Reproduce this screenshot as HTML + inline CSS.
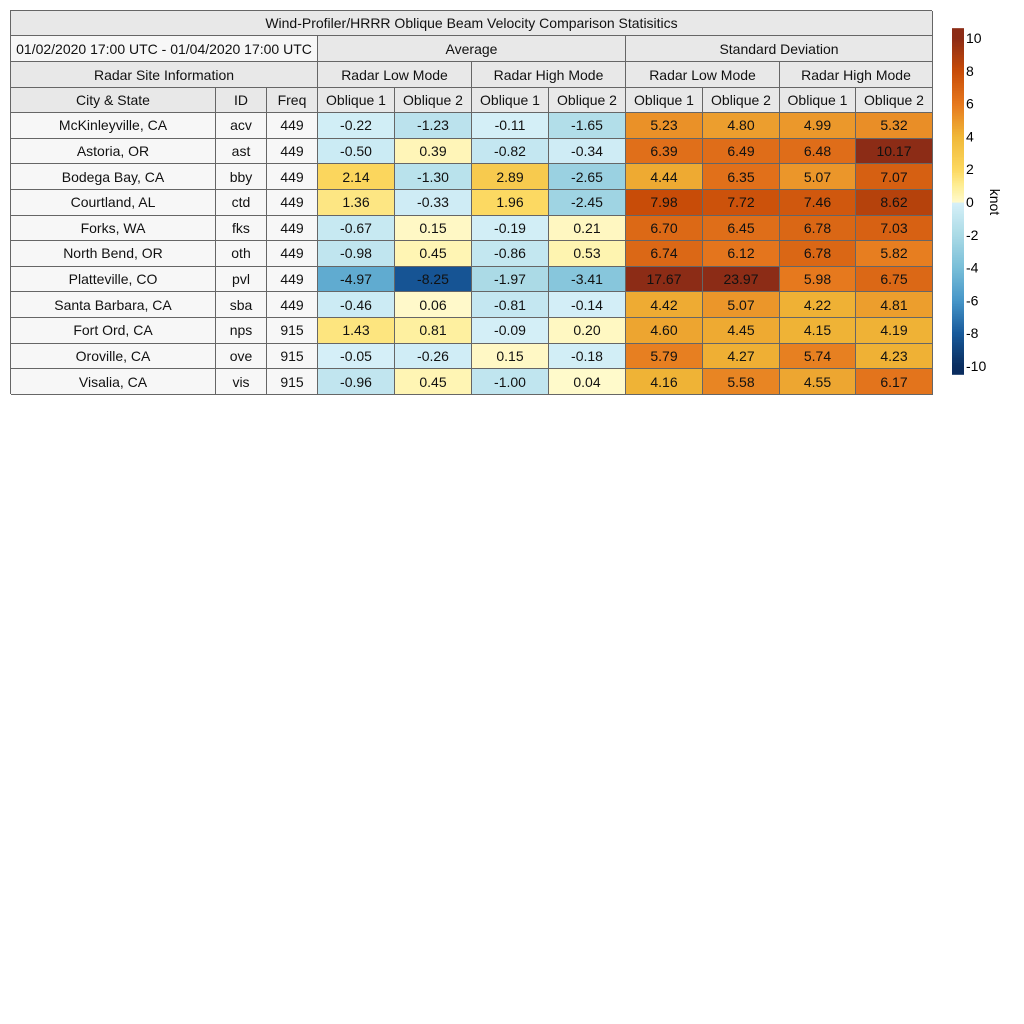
<!DOCTYPE html>
<html><head><meta charset="utf-8"><style>
body{margin:0;width:1024px;height:1024px;background:#fff;font-family:"Liberation Sans",sans-serif;position:relative;overflow:hidden}
.c{position:absolute;box-sizing:border-box;border-right:1px solid #666;border-bottom:1px solid #666;display:flex;align-items:center;justify-content:center;font-size:14px;color:#111;white-space:nowrap}
.h{background:#e8e8e8}
.w{background:#f7f7f7}
.t{position:absolute;font-size:14px;color:#111}
</style></head><body>
<div id="tbl" style="position:absolute;left:10px;top:10px;width:922px;height:384px;border-left:1px solid #666;border-top:1px solid #666;box-sizing:border-box"></div>
<svg id="cb" style="position:absolute;left:0;top:0" width="1024" height="400"></svg>
<script>
const sites=["McKinleyville, CA","Astoria, OR","Bodega Bay, CA","Courtland, AL","Forks, WA","North Bend, OR","Platteville, CO","Santa Barbara, CA","Fort Ord, CA","Oroville, CA","Visalia, CA"];
const ids=["acv","ast","bby","ctd","fks","oth","pvl","sba","nps","ove","vis"];
const freqs=["449","449","449","449","449","449","449","449","915","915","915"];
const avgLow1=[-0.22,-0.50,2.14,1.36,-0.67,-0.98,-4.97,-0.46,1.43,-0.05,-0.96];
const avgLow2=[-1.23,0.39,-1.30,-0.33,0.15,0.45,-8.25,0.06,0.81,-0.26,0.45];
const avgHigh1=[-0.11,-0.82,2.89,1.96,-0.19,-0.86,-1.97,-0.81,-0.09,0.15,-1.00];
const avgHigh2=[-1.65,-0.34,-2.65,-2.45,0.21,0.53,-3.41,-0.14,0.20,-0.18,0.04];
const sdLow1=[5.23,6.39,4.44,7.98,6.70,6.74,17.67,4.42,4.60,5.79,4.16];
const sdLow2=[4.80,6.49,6.35,7.72,6.45,6.12,23.97,5.07,4.45,4.27,5.58];
const sdHigh1=[4.99,6.48,5.07,7.46,6.78,6.78,5.98,4.22,4.15,5.74,4.55];
const sdHigh2=[5.32,10.17,7.07,8.62,7.03,5.82,6.75,4.81,4.19,4.23,6.17];
const cbTicks=[10,8,6,4,2,0,-2,-4,-6,-8,-10];
const posStops=[[0,[255,250,205]],[1,[254,238,150]],[2,[252,216,96]],[4,[240,184,56]],[6,[230,120,30]],[8,[200,76,8]],[10,[140,44,22]]];
const negStops=[[0,[214,240,248]],[-2,[170,218,230]],[-4,[120,190,216]],[-6,[70,150,200]],[-8,[24,90,155]],[-10,[10,45,95]]];
function col(v){v=Math.max(-10.5,Math.min(10.5,v));const s=v>=0?posStops:negStops;const a=Math.abs(v);
 for(let i=0;i<s.length-1;i++){const a0=Math.abs(s[i][0]),a1=Math.abs(s[i+1][0]);if(a<=a1||i==s.length-2){const f=Math.min(1,(a-a0)/(a1-a0));return 'rgb('+s[i][1].map((c,k)=>Math.round(c+(s[i+1][1][k]-c)*f)).join(',')+')';}}}
const xs=[10,215,266,317,394,471,548,625,702,779,855,932];
const tbl=document.getElementById('tbl');
function cell(x0,x1,y0,y1,txt,cls,bg,name){const d=document.createElement('div');d.className='c '+(cls||'');
 d.style.left=(x0-10)+'px';d.style.top=(y0-10)+'px';d.style.width=(x1-x0)+'px';d.style.height=(y1-y0)+'px';if(bg)d.style.background=bg;d.textContent=txt;
 
 
 tbl.appendChild(d);}
cell(10,932,10,35,"Wind-Profiler/HRRR Oblique Beam Velocity Comparison Statisitics","h","","table-title");
cell(10,317,35,61,"01/02/2020 17:00 UTC - 01/04/2020 17:00 UTC","w","","date-range");
cell(317,625,35,61,"Average","h","","average-header");
cell(625,932,35,61,"Standard Deviation","h","","std-header");
cell(10,317,61,87,"Radar Site Information","h","","site-info-header");
["Radar Low Mode","Radar High Mode","Radar Low Mode","Radar High Mode"].forEach((t,i)=>cell(xs[3+2*i],xs[5+2*i],61,87,t,"h","","mode-header"));
["City & State","ID","Freq","Oblique 1","Oblique 2","Oblique 1","Oblique 2","Oblique 1","Oblique 2","Oblique 1","Oblique 2"].forEach((t,i)=>cell(xs[i],xs[i+1],87,112,t,"h","","column-header"));
const series=[avgLow1,avgLow2,avgHigh1,avgHigh2,sdLow1,sdLow2,sdHigh1,sdHigh2];
const rh=(394-112)/11;
sites.forEach((s,r)=>{const y0=112+r*rh,y1=y0+rh;
 cell(xs[0],xs[1],y0,y1,s,"w","","city-cell");cell(xs[1],xs[2],y0,y1,ids[r],"w","","id-cell");cell(xs[2],xs[3],y0,y1,freqs[r],"w","","freq-cell");
 series.forEach((arr,k)=>cell(xs[3+k],xs[4+k],y0,y1,arr[r].toFixed(2),"",col(arr[r]),"value-cell"));});
// colorbar
const svg=document.getElementById('cb');const NS='http://www.w3.org/2000/svg';
const y=v=>202-v*16.4;
for(let v=-10.5;v<10.5;v+=0.1){const rc=document.createElementNS(NS,'rect');rc.setAttribute('x',952);rc.setAttribute('y',y(v+0.1));rc.setAttribute('width',12);rc.setAttribute('height',16.4*0.1+0.6);rc.setAttribute('fill',col(v+0.05));
 
 
 svg.appendChild(rc);}
cbTicks.forEach(t=>{const tx=document.createElementNS(NS,'text');tx.setAttribute('x',966);tx.setAttribute('y',y(t)+5);tx.setAttribute('font-size','14');tx.setAttribute('font-family','Liberation Sans, sans-serif');tx.textContent=t;
 
 
 svg.appendChild(tx);});
const lb=document.createElementNS(NS,'text');lb.setAttribute('transform','translate(990,202) rotate(90)');lb.setAttribute('text-anchor','middle');lb.setAttribute('font-size','14');lb.setAttribute('font-family','Liberation Sans, sans-serif');lb.textContent='knot';


svg.appendChild(lb);
</script>
</body></html>
